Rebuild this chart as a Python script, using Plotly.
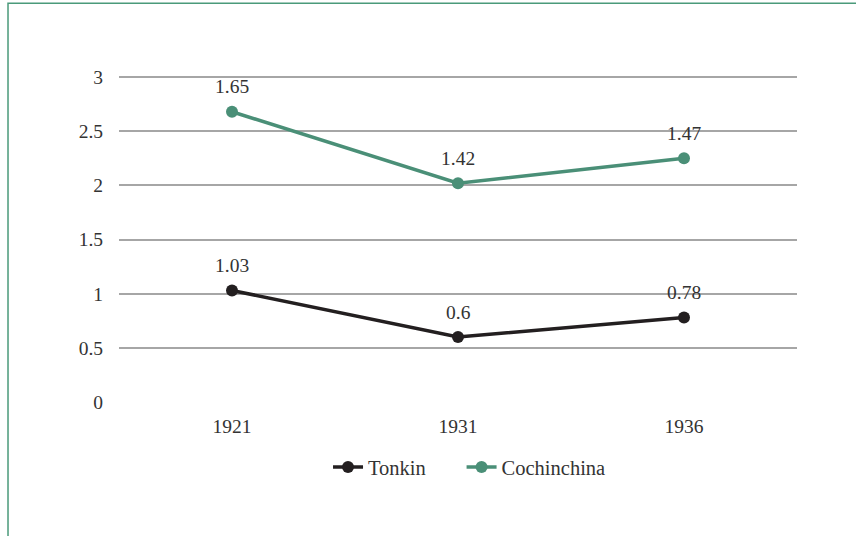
import numpy as np
import plotly.graph_objects as go

years = ["1921", "1931", "1936"]
tonkin = [1.03, 0.6, 0.78]
cochinchina = [1.65, 1.42, 1.47]
y_ticks = [0, 0.5, 1, 1.5, 2, 2.5, 3]
y_tick_labels = ["0", "0.5", "1", "1.5", "2", "2.5", "3"]

FONT = "'Liberation Serif', 'Times New Roman', 'DejaVu Serif', serif"
TEXT = "#333333"
C_TONKIN = "#231f20"
C_COCHIN = "#4a8f77"
PAD = "\u00a0" * 6  # extra room between legend entries

fig = go.Figure()
series = [("Tonkin", tonkin, C_TONKIN, PAD), ("Cochinchina", cochinchina, C_COCHIN, "")]
for name, vals, col, pad in series:
    fig.add_trace(go.Scatter(
        x=years, y=vals, name=name + pad, mode="lines+markers",
        stackgroup="one", fill="none",
        line=dict(color=col, width=3.5),
        marker=dict(color=col, size=12),
    ))

# value labels above each stacked point (x given as category index)
running = np.zeros(len(years))
for name, vals, col, _ in series:
    running = running + np.array(vals)
    for i, (top, v) in enumerate(zip(running, vals)):
        fig.add_annotation(x=i, y=float(top), text=f"{v:g}", showarrow=False,
                           xref="x", yref="y", yshift=25,
                           font=dict(family=FONT, size=19.5, color=TEXT))

# outer frame
fig.add_shape(type="rect", xref="paper", yref="paper",
              x0=-0.1637, x1=2, y0=-2, y1=1.2231,
              line=dict(color="#4a9a7a", width=1.5), layer="below")

fig.update_layout(
    width=856, height=536,
    margin=dict(l=119, r=59, t=76, b=134),
    paper_bgcolor="white", plot_bgcolor="white",
    font=dict(family=FONT, size=19.5, color=TEXT),
    showlegend=True,
    legend=dict(orientation="h", x=0.517, xanchor="center", y=-0.2, yanchor="middle",
                font=dict(family=FONT, size=20.5, color=TEXT)),
    xaxis=dict(type="category", showgrid=False, showline=False, zeroline=False,
               ticks="", ticklabelstandoff=10, range=[-0.5, 2.5]),
    yaxis=dict(range=[0, 3.01], tickvals=y_ticks, ticktext=y_tick_labels,
               showgrid=True, gridcolor="#a6a6a6", gridwidth=1.5,
               zeroline=False, showline=False, ticks="", ticklabelstandoff=15),
)

fig.write_html("out.html")
